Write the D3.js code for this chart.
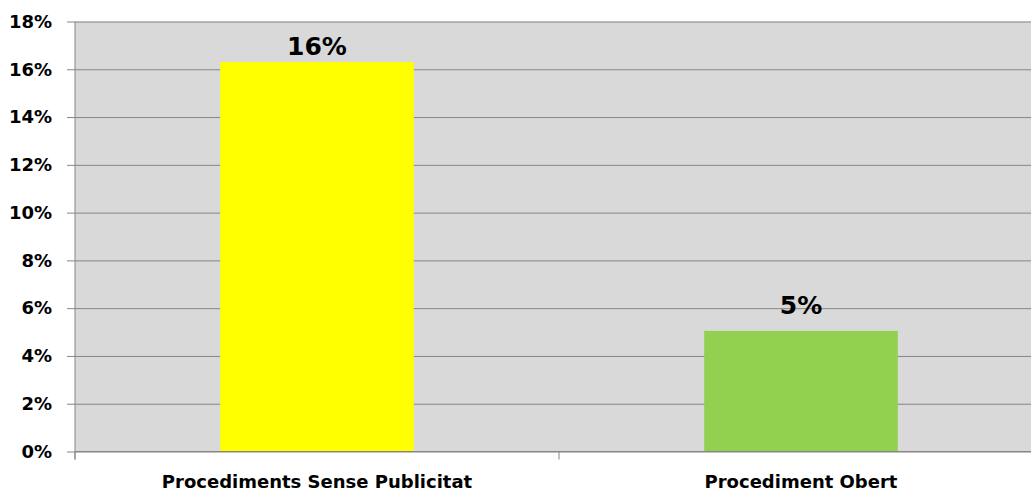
<!DOCTYPE html>
<html lang="ca">
<head>
<meta charset="UTF-8">
<script src="https://d3js.org/d3.v7.min.js"></script>
<title>Procediments</title>
<style>
  body { margin: 0; background: #fff; }
  svg { display: block; font-family: "DejaVu Sans", sans-serif; }
</style>
</head>
<body>
<div id="chart"></div>
<script>
const categories = ["Procediments Sense Publicitat", "Procediment Obert"];
const values = [16.3, 5.05];
const labels = ["16%", "5%"];
const barColors = ["#ffff00", "#92d050"];
const yTicks = [0, 2, 4, 6, 8, 10, 12, 14, 16, 18];

const width = 1031, height = 491;
const plotLeft = 75, plotRight = 1043, plotTop = 21.5, plotBottom = 451.5;

const svg = d3.select("#chart").append("svg")
    .attr("width", width)
    .attr("height", height);

const x = d3.scaleBand()
    .domain(categories)
    .range([plotLeft, plotRight])
    .paddingInner(0.6)
    .paddingOuter(0.3);

const y = d3.scaleLinear()
    .domain([0, 18])
    .range([plotBottom, plotTop]);

// plot background
svg.append("rect")
    .attr("x", plotLeft)
    .attr("y", plotTop)
    .attr("width", plotRight - plotLeft)
    .attr("height", plotBottom - plotTop)
    .attr("fill", "#d9d9d9");

// gridlines + y labels
const yAxis = d3.axisLeft(y)
    .tickValues(yTicks)
    .tickSize(-(plotRight - plotLeft + 8))
    .tickFormat(d => d + "%");

svg.append("g")
    .attr("transform", `translate(${plotLeft - 8},0)`)
    .call(yAxis)
    .call(g => g.select(".domain").remove())
    .call(g => g.selectAll(".tick line").attr("stroke", "#868686").attr("stroke-width", 1))
    .call(g => g.selectAll(".tick text")
        .attr("x", -15)
        .attr("fill", "#000")
        .attr("font-size", 18)
        .attr("font-weight", "bold")
        .attr("font-family", "DejaVu Sans, sans-serif"));

// bars
svg.selectAll(".bar")
    .data(categories)
    .join("rect")
    .attr("class", "bar")
    .attr("x", d => x(d))
    .attr("width", x.bandwidth())
    .attr("y", (d, i) => y(values[i]))
    .attr("height", (d, i) => y(0) - y(values[i]))
    .attr("fill", (d, i) => barColors[i]);

// value labels
svg.selectAll(".val")
    .data(categories)
    .join("text")
    .attr("class", "val")
    .attr("x", d => x(d) + x.bandwidth() / 2)
    .attr("y", (d, i) => Math.max(y(values[i]) - 17, plotTop + 33.5))
    .attr("text-anchor", "middle")
    .attr("font-size", 25)
    .attr("font-weight", "bold")
    .attr("fill", "#000")
    .text((d, i) => labels[i]);

// y axis line
svg.append("line")
    .attr("x1", plotLeft).attr("x2", plotLeft)
    .attr("y1", plotTop).attr("y2", plotBottom + 8)
    .attr("stroke", "#868686");

// x axis with category dividers
svg.append("line")
    .attr("x1", plotLeft).attr("x2", plotRight)
    .attr("y1", plotBottom).attr("y2", plotBottom)
    .attr("stroke", "#868686");

const dividers = [plotLeft, ...categories.slice(1).map((c, i) => (x(categories[i]) + x.bandwidth() + x(c)) / 2), plotRight];
svg.selectAll(".div")
    .data(dividers)
    .join("line")
    .attr("x1", d => d).attr("x2", d => d)
    .attr("y1", plotBottom).attr("y2", plotBottom + 8)
    .attr("stroke", "#868686");

// category labels
svg.selectAll(".cat")
    .data(categories)
    .join("text")
    .attr("class", "cat")
    .attr("x", d => x(d) + x.bandwidth() / 2)
    .attr("y", 488)
    .attr("text-anchor", "middle")
    .attr("font-size", 18)
    .attr("font-weight", "bold")
    .attr("fill", "#000")
    .text(d => d);
</script>
</body>
</html>
